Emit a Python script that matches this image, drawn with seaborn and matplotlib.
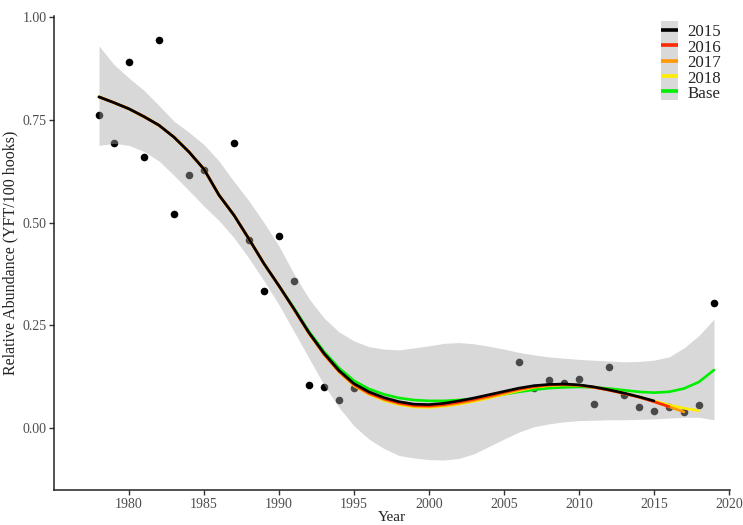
import numpy as np
import pandas as pd
import matplotlib
matplotlib.use("Agg")
import matplotlib.pyplot as plt
import seaborn as sns
from matplotlib.lines import Line2D
from matplotlib.legend_handler import HandlerTuple

# ---- observed index (points) ----
obs_year = [1978, 1979, 1980, 1981, 1982, 1983, 1984, 1985, 1987, 1988, 1989, 1990,
            1991, 1992, 1993, 1994, 1995, 2006, 2007, 2008, 2009, 2010, 2011, 2012,
            2013, 2014, 2015, 2016, 2017, 2018, 2019]
obs_value = [0.762, 0.695, 0.890, 0.660, 0.944, 0.520, 0.617, 0.627, 0.693, 0.457, 0.334, 0.468,
             0.357, 0.104, 0.100, 0.069, 0.098, 0.161, 0.098, 0.117, 0.109, 0.120, 0.058, 0.149,
             0.080, 0.052, 0.041, 0.052, 0.038, 0.056, 0.305]

# ---- fitted curves ----
fit_year = list(range(1978, 2020))
base_fit = [0.806, 0.792, 0.777, 0.758, 0.737, 0.708, 0.672, 0.630, 0.567, 0.518,
            0.460, 0.400, 0.346, 0.292, 0.235, 0.186, 0.146, 0.115, 0.095, 0.082,
            0.073, 0.068, 0.066, 0.066, 0.068, 0.071, 0.076, 0.082, 0.088, 0.093,
            0.097, 0.099, 0.100, 0.099, 0.096, 0.092, 0.088, 0.086, 0.088, 0.096,
            0.112, 0.141]
fit_2015 = [0.806, 0.792, 0.777, 0.758, 0.737, 0.708, 0.672, 0.630, 0.567, 0.518,
            0.460, 0.400, 0.346, 0.290, 0.232, 0.182, 0.140, 0.108, 0.088, 0.074,
            0.064, 0.058, 0.057, 0.060, 0.066, 0.073, 0.081, 0.089, 0.097, 0.103,
            0.106, 0.107, 0.105, 0.100, 0.093, 0.085, 0.076, 0.066]
fit_2016 = [0.806, 0.792, 0.777, 0.758, 0.737, 0.708, 0.672, 0.630, 0.567, 0.518,
            0.460, 0.400, 0.346, 0.289, 0.231, 0.180, 0.138, 0.106, 0.085, 0.071,
            0.061, 0.055, 0.054, 0.057, 0.063, 0.070, 0.078, 0.087, 0.095, 0.101,
            0.105, 0.106, 0.104, 0.099, 0.092, 0.084, 0.075, 0.064, 0.052]
fit_2017 = [0.806, 0.792, 0.777, 0.758, 0.737, 0.708, 0.672, 0.630, 0.567, 0.518,
            0.460, 0.400, 0.346, 0.289, 0.230, 0.179, 0.137, 0.104, 0.083, 0.069,
            0.059, 0.053, 0.052, 0.055, 0.060, 0.067, 0.075, 0.084, 0.093, 0.100,
            0.104, 0.105, 0.104, 0.099, 0.092, 0.084, 0.075, 0.064, 0.052, 0.039]
fit_2018 = [0.806, 0.792, 0.777, 0.758, 0.737, 0.708, 0.672, 0.630, 0.567, 0.518,
            0.460, 0.400, 0.346, 0.289, 0.230, 0.179, 0.136, 0.103, 0.082, 0.067,
            0.057, 0.051, 0.050, 0.053, 0.058, 0.065, 0.073, 0.082, 0.091, 0.099,
            0.103, 0.105, 0.104, 0.099, 0.093, 0.085, 0.076, 0.066, 0.056, 0.048,
            0.042]

band_upper = [0.930, 0.885, 0.852, 0.822, 0.785, 0.747, 0.720, 0.690, 0.650, 0.600,
              0.553, 0.500, 0.443, 0.375, 0.315, 0.268, 0.234, 0.212, 0.198, 0.192,
              0.190, 0.195, 0.200, 0.206, 0.208, 0.205, 0.199, 0.192, 0.184, 0.178,
              0.173, 0.170, 0.167, 0.165, 0.163, 0.161, 0.162, 0.165, 0.173, 0.195,
              0.225, 0.265]
band_lower = [0.688, 0.693, 0.688, 0.673, 0.650, 0.615, 0.578, 0.540, 0.505, 0.463,
              0.413, 0.358, 0.300, 0.235, 0.170, 0.105, 0.050, 0.005, -0.027, -0.050,
              -0.067, -0.073, -0.077, -0.078, -0.074, -0.063, -0.045, -0.027, -0.010, 0.003,
              0.010, 0.015, 0.018, 0.019, 0.020, 0.020, 0.021, 0.022, 0.024, 0.026,
              0.026, 0.020]

series_names = ["2015", "2016", "2017", "2018", "Base"]
series_colors = ["#000000", "#ff2a00", "#ff9900", "#ffee00", "#00ee00"]

# long table for seaborn
rows = []
for name, vals in zip(series_names, [fit_2015, fit_2016, fit_2017, fit_2018, base_fit]):
    for yr, v in zip(fit_year, vals):
        rows.append({"Year": yr, "value": v, "run": name})
fits = pd.DataFrame(rows)
obs = pd.DataFrame({"Year": obs_year, "value": obs_value})

sns.set_theme(style="white")
plt.rcParams["font.family"] = ["Liberation Serif", "DejaVu Serif"]

fig = plt.figure(figsize=(7.43, 5.25), dpi=100)
ax = fig.add_axes([54 / 743, 1 - 490 / 525, (730 - 54) / 743, (490 - 16) / 525])

sns.scatterplot(data=obs, x="Year", y="value", color="black", s=30, linewidth=0,
                ax=ax, zorder=2, legend=False)
ax.fill_between(fit_year, band_lower, band_upper, color="#a8a8a8", alpha=0.44,
                linewidth=0, zorder=3)

draw_order = ["Base", "2018", "2017", "2016", "2015"]
for name in draw_order:
    col = series_colors[series_names.index(name)]
    sns.lineplot(data=fits[fits["run"] == name], x="Year", y="value", color=col,
                 linewidth=1.9, ax=ax, zorder=4, legend=False)

ax.set_xlim(1975, 2020.07)
ax.set_ylim(-0.151, 1.003)
ax.set_xticks([1980, 1985, 1990, 1995, 2000, 2005, 2010, 2015, 2020])
ax.set_yticks([0.0, 0.25, 0.5, 0.75, 1.0])
ax.set_yticklabels(["0.00", "0.25", "0.50", "0.75", "1.00"])
ax.tick_params(axis="both", direction="out", length=3.5, width=1.0, color="#333333",
               labelsize=10, labelcolor="#4d4d4d", pad=2, left=True, bottom=True)
for side in ["top", "right"]:
    ax.spines[side].set_visible(False)
for side in ["left", "bottom"]:
    ax.spines[side].set_color("#222222")
    ax.spines[side].set_linewidth(1.1)
ax.grid(False)
ax.set_xlabel("Year", fontsize=11, labelpad=0, color="#222222")
ax.set_ylabel("Relative Abundance (YFT/100 hooks)", fontsize=11.5, labelpad=3, color="#222222")

handles = [(Line2D([0], [0], color="#d9d9d9", linewidth=13, solid_capstyle="butt"),
            Line2D([0], [0], color=c, linewidth=2.6, solid_capstyle="butt"))
           for c in series_colors]
leg = ax.legend(handles, series_names,
                handler_map={tuple: HandlerTuple(ndivide=1, pad=0.0)},
                loc="upper right", bbox_to_anchor=(0.987, 0.985), frameon=False,
                fontsize=12.2, labelspacing=-0.12, handlelength=1.0, handleheight=1.0,
                handletextpad=0.55, borderpad=0.0, borderaxespad=0.0)

fig.savefig("out.png", dpi=100)
